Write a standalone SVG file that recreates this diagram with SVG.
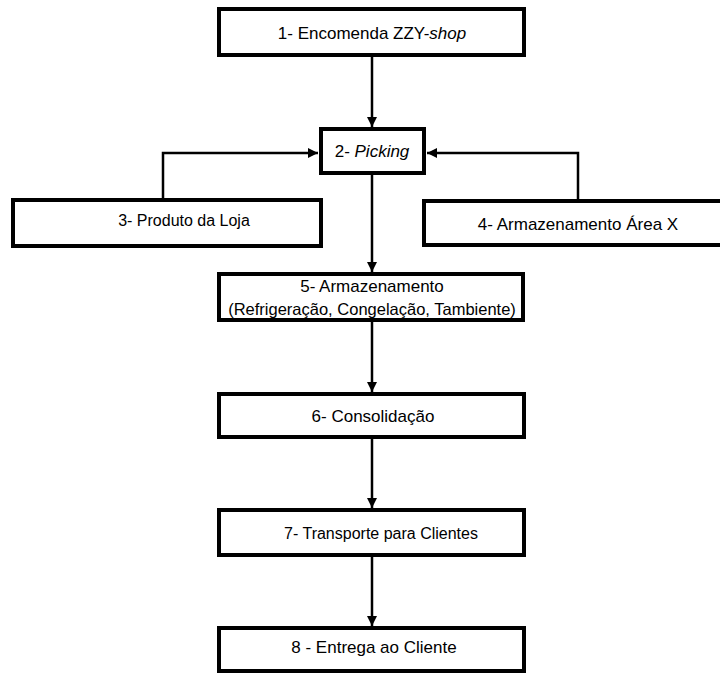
<svg xmlns="http://www.w3.org/2000/svg" width="720" height="673" viewBox="0 0 720 673">
<style>
.box{fill:#fff;stroke:#000;stroke-width:4}
.t{font-family:"Liberation Sans",Arial,sans-serif;font-size:17px;fill:#000;text-anchor:middle}
.c{fill:none;stroke:#000;stroke-width:2.5}
</style>
<defs>
<marker id="ah" markerUnits="userSpaceOnUse" markerWidth="10" markerHeight="10" viewBox="0 0 10 10" refX="10" refY="5" orient="auto">
<path d="M0,0 L10,5 L0,10 z" fill="#000"/>
</marker>
</defs>
<rect width="720" height="673" fill="#fff"/>
<g id="connectors">
<path class="c" d="M372,57 V127" marker-end="url(#ah)"/>
<path class="c" d="M372,175 V272" marker-end="url(#ah)"/>
<path class="c" d="M163,198 V153 H318" marker-end="url(#ah)"/>
<path class="c" d="M578,199 V153 H427" marker-end="url(#ah)"/>
<path class="c" d="M372,322 V392" marker-end="url(#ah)"/>
<path class="c" d="M372,439 V508" marker-end="url(#ah)"/>
<path class="c" d="M372,557 V626" marker-end="url(#ah)"/>
</g>
<g id="n1"><rect class="box" x="219" y="9" width="305" height="46"/><text class="t" x="372" y="39">1- Encomenda ZZY-<tspan font-style="italic">shop</tspan></text></g>
<g id="n2"><rect class="box" x="321" y="129" width="103" height="44"/><text class="t" x="372" y="157">2- <tspan font-style="italic">Picking</tspan></text></g>
<g id="n3"><rect class="box" x="13" y="200" width="308" height="46"/><text class="t" x="184" y="226" style="font-size:16px">3- Produto da Loja</text></g>
<g id="n4"><rect class="box" x="424" y="201" width="320" height="44"/><text class="t" x="578" y="230">4- Armazenamento Área X</text></g>
<g id="n5"><rect class="box" x="219" y="274" width="304" height="46"/><text class="t" x="372" y="292">5- Armazenamento</text><text class="t" x="372" y="315" style="font-size:16.5px">(Refrigeração, Congelação, Tambiente)</text></g>
<g id="n6"><rect class="box" x="219" y="394" width="305" height="43"/><text class="t" x="373" y="422">6- Consolidação</text></g>
<g id="n7"><rect class="box" x="219" y="510" width="305" height="45"/><text class="t" x="381" y="539" style="font-size:16px">7- Transporte para Clientes</text></g>
<g id="n8"><rect class="box" x="219" y="628" width="305" height="43"/><text class="t" x="374" y="653">8 - Entrega ao Cliente</text></g>
</svg>
